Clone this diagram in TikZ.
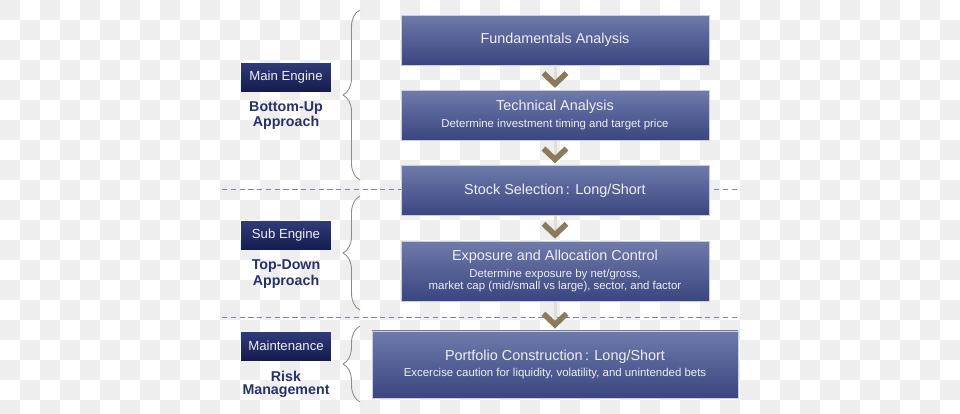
\documentclass[tikz,border=0pt]{standalone}
\usepackage{fontspec}
\setmainfont{Liberation Sans}
\usetikzlibrary{positioning, arrows.meta, decorations.pathreplacing}

\definecolor{boxtop}{HTML}{6E7BAA}
\definecolor{boxbot}{HTML}{3A4580}
\definecolor{boxedge}{HTML}{C9CDE0}
\definecolor{boxtext}{HTML}{EEEEF2}
\definecolor{tagtop}{HTML}{2F3B7A}
\definecolor{tagbot}{HTML}{141C4C}
\definecolor{approachblue}{HTML}{27316A}
\definecolor{chev}{HTML}{8B7A5C}
\definecolor{bracegray}{HTML}{8C8C8C}
\definecolor{cutblue}{HTML}{7E84A6}
\definecolor{checker}{HTML}{EEEEEE}

\newcommand{\detail}[1]{{\fontsize{6.5}{7.2}\selectfont #1}}

\begin{document}
\begin{tikzpicture}[x=0.02cm, y=-0.02cm,
	main/.style={rectangle, draw=boxedge, line width=0.5pt, top color=boxtop, bottom color=boxbot, text=boxtext, align=center, minimum width=6.16cm, minimum height=1cm, inner sep=0pt, font=\fontsize{8.2}{9.6}\selectfont},
	tag/.style={rectangle, top color=tagtop, bottom color=tagbot, text=boxtext, minimum width=1.8cm, minimum height=0.56cm, inner sep=0pt, font=\fontsize{7.5}{9}\selectfont},
	approach/.style={text=approachblue, align=center, inner sep=0pt, font=\bfseries\fontsize{8.1}{7.4}\selectfont},
	flow/.style={draw=chev!25, line width=0.06cm, shorten >=0.04cm, -{Straight Barb[length=0.22cm, width=0.46cm, line width=0.11cm, color=chev]}},
	bracket/.style={decorate, decoration={brace, amplitude=0.34cm}, draw=bracegray, line width=0.5pt},
	cut/.style={draw=cutblue, dash pattern=on 3pt off 2pt, line width=0.5pt}
	]

	% background checkerboard
	\useasboundingbox (0,0) rectangle (960,413);
	\clip (0,0) rectangle (960,413);
	\fill[white] (0,0) rectangle (960,413);
	\foreach \i in {0,...,47}{
		\foreach \j in {0,...,20}{
			\pgfmathtruncatemacro\k{mod(\i+\j,2)}
			\ifnum\k=0 \fill[checker] (20*\i,20*\j) rectangle ++(20,20); \fi
		}
	}

	% separators
	\coordinate (cut1w) at (222,189);
	\coordinate (cut1e) at (738,189);
	\coordinate (cut2w) at (222,317);
	\coordinate (cut2e) at (738,317);
	\draw[cut] (cut1w) -- (cut1e);
	\draw[cut] (cut2w) -- (cut2e);

	% process
	\node (fund) [main] at (555,40) {Fundamentals Analysis};
	\node (tech) [main, below=0.49cm of fund] {Technical Analysis\\\detail{Determine investment timing and target price}};
	\node (stock) [main, below=0.49cm of tech] {Stock Selection\,: Long/Short};
	\node (expo) [main, below=0.49cm of stock, minimum height=1.2cm] {Exposure and Allocation Control\\\detail{Determine exposure by net/gross,}\\[-2.4pt]\detail{market cap (mid/small vs large), sector, and factor}};
	\node (port) [main, below=0.58cm of expo, minimum width=7.32cm, minimum height=1.34cm] {Portfolio Construction\,: Long/Short\\\detail{Excercise caution for liquidity, volatility, and unintended bets}};

	\draw[flow] (fund) -- (tech);
	\draw[flow] (tech) -- (stock);
	\draw[flow] (stock) -- (expo);
	\draw[flow] (expo) -- (port);

	% engines
	\node (mainengine) [tag] at (286,77) {Main Engine};
		\node (bottomup) [approach, below=0.2cm of mainengine] {Bottom-Up\\Approach};
	\node (subengine) [tag] at (286,235.5) {Sub Engine};
		\node (topdown) [approach, below=0.2cm of subengine] {Top-Down\\Approach};
	\node (maint) [tag] at (286,346) {Maintenance};
		\node (risk) [approach, below=0.2cm of maint] {Risk\\Management};

	% braces
	\coordinate (br1bot) at (360,180);
	\coordinate (br1top) at (360,10);
	\coordinate (br2bot) at (360,310);
	\coordinate (br2top) at (360,196);
	\coordinate (br3bot) at (360,402);
	\coordinate (br3top) at (360,326);
	\draw[bracket] (br1bot) -- (br1top);
	\draw[bracket] (br2bot) -- (br2top);
	\draw[bracket] (br3bot) -- (br3top);

\end{tikzpicture}
\end{document}
